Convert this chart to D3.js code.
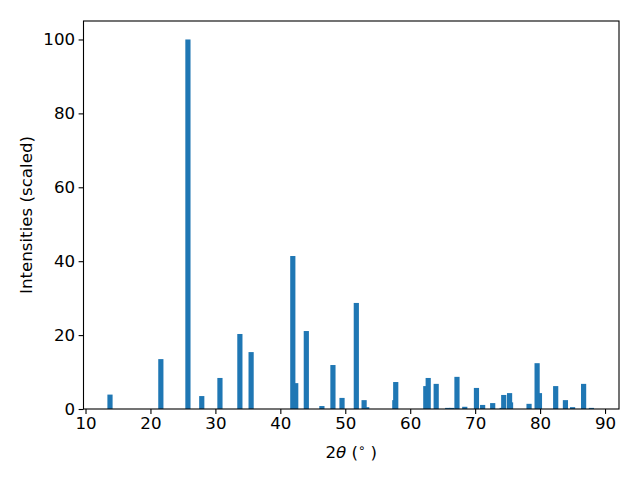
<!DOCTYPE html>
<html><head><meta charset="utf-8">
<script src="https://cdn.jsdelivr.net/npm/d3@7"></script>
<style>body{margin:0;background:#fff}svg{display:block}text{font-family:"DejaVu Sans",sans-serif;fill:#000}</style>
</head><body>
<svg id="c" width="640" height="480"></svg>
<script>
const positions = [13.77, 21.6, 25.77, 27.9, 30.7, 33.77, 35.5, 42.37, 41.92, 44.0, 46.4, 48.1, 49.5, 51.7, 53.3, 52.9, 57.63, 57.77, 62.4, 62.77, 64.0, 65.77, 66.4, 67.2, 68.4, 70.2, 71.15, 72.7, 74.16, 74.4, 75.45, 75.3, 78.3, 79.9, 79.54, 82.4, 83.9, 85.0, 86.7, 87.9];
const intensities = [3.9, 13.5, 100, 3.5, 8.4, 20.3, 15.4, 7.0, 41.4, 21.1, 0.8, 11.9, 3.0, 28.7, 0.5, 2.4, 2.4, 7.3, 6.2, 8.4, 6.8, 0.3, 0.3, 8.7, 0.6, 5.7, 1.1, 1.6, 0.3, 3.8, 1.8, 4.3, 1.4, 4.3, 12.4, 6.2, 2.4, 0.5, 6.8, 0.3];
const xTicks = [10, 20, 30, 40, 50, 60, 70, 80, 90];
const yTicks = [0, 20, 40, 60, 80, 100];
const barWidth = 0.8;

const L = 83.5, R = 619, T = 21, B = 409;
const svg = d3.select("#c");
const x = d3.scaleLinear().domain([9.69, 92.15]).range([L, R]);
const y = d3.scaleLinear().domain([0, 105]).range([B, T]);

svg.append("g").selectAll("rect").data(positions.map((p, i) => ({p, v: intensities[i]})))
  .enter().append("rect")
  .attr("x", d => x(d.p - barWidth / 2))
  .attr("width", d => x(d.p + barWidth / 2) - x(d.p - barWidth / 2))
  .attr("y", d => y(d.v))
  .attr("height", d => B - y(d.v))
  .attr("fill", "#1f77b4");

const fs = 16.67;
const xa = svg.append("g").attr("transform", `translate(0,${B})`)
  .call(d3.axisBottom(x).tickValues(xTicks).tickSize(4.9).tickPadding(3.5).tickFormat(d3.format("d")));
const ya = svg.append("g").attr("transform", `translate(${L},0)`)
  .call(d3.axisLeft(y).tickValues(yTicks).tickSize(4.9).tickPadding(3.5).tickFormat(d3.format("d")));
[xa, ya].forEach(a => {
  a.select(".domain").remove();
  a.selectAll(".tick line").attr("stroke", "#000").attr("stroke-width", 1.1);
  a.selectAll(".tick text").attr("font-size", fs).attr("font-family", "DejaVu Sans").attr("fill", "#000");
});

svg.append("rect").attr("x", L).attr("y", T).attr("width", R - L).attr("height", B - T)
  .attr("fill", "none").attr("stroke", "#000").attr("stroke-width", 1.1);

const xl = svg.append("text").attr("x", (L + R) / 2).attr("y", 458).attr("text-anchor", "middle").attr("font-size", fs);
xl.append("tspan").text("2");
xl.append("tspan").attr("font-style", "italic").text("θ");
xl.append("tspan").text(" (");
xl.append("tspan").attr("font-size", fs * 0.7).attr("dy", -6).text("∘");
xl.append("tspan").attr("dy", 6).text(" )");

svg.append("text").attr("transform", `translate(32,${(T + B) / 2}) rotate(-90)`)
  .attr("text-anchor", "middle").attr("font-size", fs).text("Intensities (scaled)");
</script>
</body></html>
